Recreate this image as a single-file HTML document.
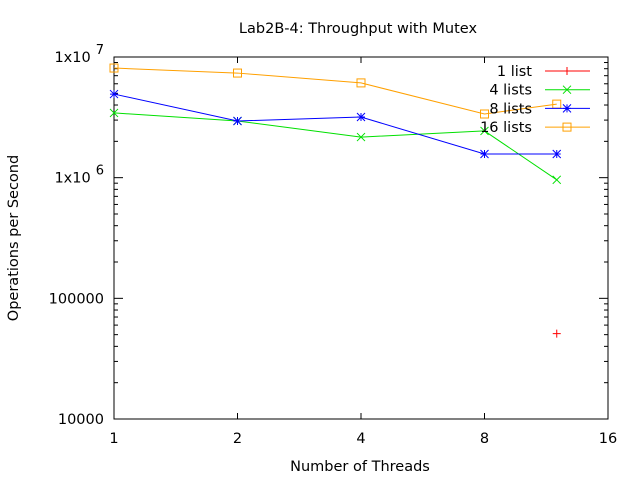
<!DOCTYPE html>
<html><head><meta charset="utf-8"><style>
body{margin:0;background:#fff}
svg{display:block;font-family:"DejaVu Sans","Liberation Sans",sans-serif}
</style></head><body>
<svg id="chart" width="640" height="480" xmlns="http://www.w3.org/2000/svg">
<rect width="640" height="480" fill="#fff"/>
<text x="358" y="33" font-size="14.5" text-anchor="middle">Lab2B-4: Throughput with Mutex</text>
<text x="360" y="471" font-size="14.5" text-anchor="middle">Number of Threads</text>
<text transform="translate(18,238) rotate(-90)" font-size="14.5" text-anchor="middle">Operations per Second</text>
<g id="axes"></g>
<g id="series"></g>
<g id="legend"></g>
</svg>
<script>
const xTicks=[1,2,4,8,16];
const yTickExps=[4,5,6,7];
const threads=[1,2,4,8,12];
const series1=[null,null,null,null,51000];
const series4=[3440000,2950000,2170000,2440000,960000];
const series8=[4930000,2950000,3180000,1570000,1570000];
const series16=[8100000,7360000,6100000,3370000,4070000];
const names=["1 list","4 lists","8 lists","16 lists"];

const L=114,R=608,T=57,B=419;
const NS="http://www.w3.org/2000/svg";
function xs(v){return L+(Math.log2(v)/4)*(R-L);}
function ys(v){return B-(Math.log10(v)-4)/3*(B-T);}
function mk(tag,attrs,parent){const e=document.createElementNS(NS,tag);for(const k in attrs)e.setAttribute(k,attrs[k]);parent.appendChild(e);return e;}
const ax=document.getElementById('axes');
const border=mk('rect',{x:L,y:T,width:R-L,height:B-T,fill:'none',stroke:'#000','stroke-width':1},ax);


xTicks.forEach(v=>{
  const x=xs(v);
  mk('line',{x1:x,y1:B,x2:x,y2:B-6,stroke:'#000'},ax);
  mk('line',{x1:x,y1:T,x2:x,y2:T+6,stroke:'#000'},ax);
  const t=mk('text',{x:x,y:B+24,'font-size':14.5,'text-anchor':'middle'},ax);
  t.textContent=v;
  
  
});
yTickExps.forEach(e=>{
  const y=ys(Math.pow(10,e));
  mk('line',{x1:L,y1:y,x2:L+9,y2:y,stroke:'#000'},ax);
  mk('line',{x1:R,y1:y,x2:R-9,y2:y,stroke:'#000'},ax);
  if(e<7){for(let m=2;m<10;m++){const yy=ys(m*Math.pow(10,e));
    mk('line',{x1:L,y1:yy,x2:L+4,y2:yy,stroke:'#000'},ax);
    mk('line',{x1:R,y1:yy,x2:R-4,y2:yy,stroke:'#000'},ax);}}
  const t=mk('text',{x:L-10,y:y+5,'font-size':14.5,'text-anchor':'end'},ax);
  if(e>=6){t.textContent='1x10';const s=mk('tspan',{dy:-8,'font-size':13,dx:5},t);s.textContent=String(e);}
  else t.textContent=String(Math.pow(10,e));
  
  
});
function marker(type,x,y,c,g){
  if(type==='plus'){mk('path',{d:`M${x-4},${y}H${x+4}M${x},${y-4}V${y+4}`,stroke:c,fill:'none'},g);}
  else if(type==='x'){mk('path',{d:`M${x-4},${y-4}L${x+4},${y+4}M${x-4},${y+4}L${x+4},${y-4}`,stroke:c,fill:'none'},g);}
  else if(type==='star'){mk('path',{d:`M${x-4},${y}H${x+4}M${x},${y-4}V${y+4}M${x-4},${y-4}L${x+4},${y+4}M${x-4},${y+4}L${x+4},${y-4}`,stroke:c,fill:'none'},g);}
  else {mk('rect',{x:x-4,y:y-4,width:8,height:8,stroke:c,fill:'none'},g);}
}
const sg=document.getElementById('series');
const lg=document.getElementById('legend');
const all=[series1,series4,series8,series16];
const colors=['#ff0000','#00e000','#0000ff','#ffa000'];
const marks=['plus','x','star','box'];
const dn=['series-1-list','series-4-lists','series-8-lists','series-16-lists'];
all.forEach((s,i)=>{
  const g=mk('g',{},sg);
  
  
  const pts=[];s.forEach((v,j)=>{if(v!=null)pts.push([xs(threads[j]),ys(v)]);});
  if(pts.length>1)mk('polyline',{points:pts.map(p=>p.join(',')).join(' '),fill:'none',stroke:colors[i]},g);
  pts.forEach(p=>marker(marks[i],p[0],p[1],colors[i],g));
  const ly=71+i*18.7;
  const le=mk('g',{},lg);
  
  
  const t=mk('text',{x:532,y:ly+5,'font-size':14.5,'text-anchor':'end'},le);t.textContent=names[i];
  mk('line',{x1:545,y1:ly,x2:590,y2:ly,stroke:colors[i]},le);
  marker(marks[i],567,ly,colors[i],le);
});
</script>
</body></html>
